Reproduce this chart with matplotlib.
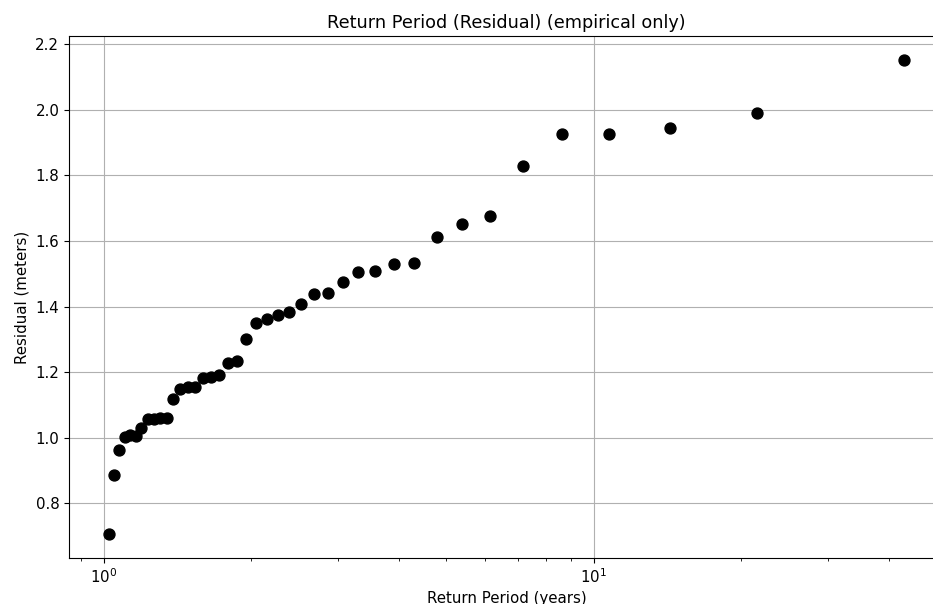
import matplotlib
matplotlib.use("Agg")
import matplotlib.pyplot as plt

# empirical return periods (years)
return_period = [43.0, 21.5, 14.33, 10.75, 8.6, 7.17, 6.14, 5.375, 4.78, 4.3,
                 3.91, 3.583, 3.308, 3.071, 2.867, 2.6875, 2.529, 2.389, 2.263, 2.15,
                 2.048, 1.955, 1.87, 1.792, 1.72, 1.654, 1.593, 1.536, 1.483, 1.433,
                 1.387, 1.344, 1.303, 1.265, 1.229, 1.194, 1.162, 1.132, 1.103, 1.075,
                 1.049, 1.024]

# residual (meters)
residual = [2.153, 1.992, 1.946, 1.928, 1.927, 1.830, 1.678, 1.653, 1.611, 1.532,
            1.529, 1.509, 1.505, 1.474, 1.441, 1.438, 1.407, 1.383, 1.374, 1.361,
            1.349, 1.300, 1.233, 1.228, 1.191, 1.185, 1.184, 1.155, 1.154, 1.148,
            1.117, 1.062, 1.060, 1.059, 1.056, 1.029, 1.007, 1.008, 1.002, 0.962,
            0.886, 0.706]

plt.rcParams['font.size'] = 10.8
plt.rcParams['axes.titlesize'] = 12.7

fig = plt.figure(figsize=(9.33, 6.04), dpi=100)
ax = fig.add_axes([69 / 933, 46 / 604, 875 / 933, 522 / 604])

ax.scatter(return_period, residual, s=62, color="black", zorder=3)
ax.set_xscale("log")
ax.set_title("Return Period (Residual) (empirical only)")
ax.set_xlabel("Return Period (years)", labelpad=3)
ax.set_ylabel("Residual (meters)")
ax.grid(True)

fig.savefig("out.png", dpi=100)
